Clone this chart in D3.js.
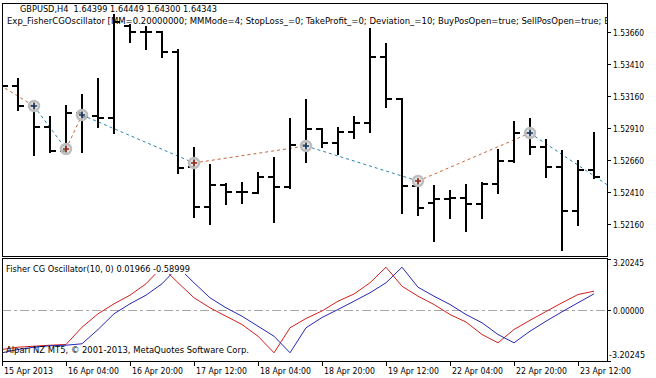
<!DOCTYPE html>
<html>
<head>
<meta charset="utf-8">
<script src="https://cdn.jsdelivr.net/npm/d3@7"></script>
<style>
  body { margin: 0; background: #fff; }
  svg { display: block; }
  text { font-family: "DejaVu Sans", Verdana, sans-serif; font-size: 9px; fill: #000; white-space: pre; }
</style>
</head>
<body>
<svg id="chart"></svg>
<script>
// GBPUSD H4 bars, 15 Apr 12:00 .. 23 Apr 16:00
var opens  = [1.53248, 1.53240, 1.53084, 1.52920, 1.52733, 1.53030, 1.53006, 1.52991, 1.53709, 1.53662,
              1.53662, 1.53506, 1.52608, 1.52295, 1.52467, 1.52412, 1.52408, 1.52530, 1.52454, 1.52780,
              1.52902, 1.52798, 1.52879, 1.52951, 1.53465, 1.53137, 1.52463, 1.52326, 1.52358, 1.52369,
              1.52319, 1.52473, 1.52652, 1.52873, 1.52762, 1.52610, 1.52262, 1.52587];
var highs  = [1.53287, 1.53295, 1.53108, 1.52998, 1.53084, 1.53170, 1.53295, 1.53795, 1.53717, 1.53701,
              1.53662, 1.53522, 1.52756, 1.52623, 1.52475, 1.52483, 1.52561, 1.52678, 1.52983, 1.53131,
              1.52905, 1.52912, 1.52998, 1.53686, 1.53569, 1.53139, 1.52506, 1.52459, 1.52420, 1.52467,
              1.52480, 1.52740, 1.52959, 1.52983, 1.52819, 1.52733, 1.52658, 1.52877];
var lows   = [1.53209, 1.53053, 1.52701, 1.52725, 1.52725, 1.52725, 1.52920, 1.52873, 1.53584, 1.53530,
              1.53467, 1.52561, 1.52217, 1.52162, 1.52319, 1.52326, 1.52405, 1.52178, 1.52444, 1.52647,
              1.52764, 1.52709, 1.52834, 1.52881, 1.53076, 1.52248, 1.52233, 1.52030, 1.52213, 1.52108,
              1.52207, 1.52405, 1.52649, 1.52709, 1.52533, 1.51959, 1.52155, 1.52522];
var closes = [1.53240, 1.53084, 1.52920, 1.52733, 1.53030, 1.52998, 1.52991, 1.53740, 1.53662, 1.53662,
              1.53506, 1.52600, 1.52295, 1.52467, 1.52412, 1.52412, 1.52530, 1.52454, 1.52780, 1.52902,
              1.52798, 1.52879, 1.52954, 1.53465, 1.53137, 1.52463, 1.52287, 1.52355, 1.52369, 1.52321,
              1.52473, 1.52652, 1.52873, 1.52762, 1.52610, 1.52262, 1.52587, 1.52532];

// Fisher CG Oscillator (red) and its trigger (blue)
var fisherMain    = [-2.512, -2.367, -2.305, -2.242, -2.198, -1.111, -0.270, 0.358, 0.898, 1.614,
                     2.669, 1.683, 0.735, 0.107, -0.421, -0.942, -1.677, -2.719, -1.149, -0.565,
                     -0.094, 0.521, 0.973, 1.677, 2.656, 1.463, 0.835, 0.314, -0.314, -0.785,
                     -1.570, -2.091, -1.256, -0.678, -0.126, 0.421, 0.942, 1.149];
var fisherTrigger = [-2.719, -2.512, -2.367, -2.279, -2.242, -2.154, -1.256, -0.270, 0.358, 0.898,
                     1.614, 2.669, 1.677, 0.735, 0.107, -0.421, -1.049, -1.677, -2.719, -1.149,
                     -0.502, 0.000, 0.521, 1.049, 1.677, 2.656, 1.400, 0.835, 0.314, -0.314,
                     -0.835, -1.570, -2.091, -1.363, -0.735, -0.144, 0.421, 0.986];

// deals from the tester (bar index, price, side)
var dealBars   = [-3, 2, 4, 5, 12, 19, 26, 33, 40];
var dealPrices = [1.53469, 1.53084, 1.52748, 1.53014, 1.52639, 1.52772, 1.52498, 1.52873, 1.52287];
var dealSides  = ["buy", "sell", "buy", "sell", "buy", "sell", "buy", "sell", "buy"];

var priceTicks = [1.52160, 1.52410, 1.52660, 1.52910, 1.53160, 1.53410, 1.53660];
var oscTicks = [3.20245, 0, -3.20245];
var oscTickLabels = ["3.20245", "0.00000", "-3.20245"];
var timeTickBars = [0, 4, 8, 12, 16, 20, 24, 28, 32, 36];
var timeTickLabels = ["15 Apr 2013", "16 Apr 04:00", "16 Apr 20:00", "17 Apr 12:00", "18 Apr 04:00",
                      "18 Apr 20:00", "19 Apr 12:00", "22 Apr 04:00", "22 Apr 20:00", "23 Apr 12:00"];

var width = 656, height = 378;
var left = 2, right = 607;
var mainTop = 3, mainBottom = 256;
var oscTop = 258, oscBottom = 361;

var svg = d3.select("#chart").attr("width", width).attr("height", height);

var x = d3.scaleLinear().domain([0, 37]).range([2, 594]);
var y = d3.scaleLinear().domain([1.52160, 1.53660]).range([224.3, 32.3]);
var yo = d3.scaleLinear().domain([-3.20245, 3.20245]).range([360.5, 258.5]);

function px(v) { return Math.round(v); }

// terminal font is narrower than anything installed, so squeeze to the measured widths
function fit(sel, w) {
    return sel.attr("textLength", w).attr("lengthAdjust", "spacingAndGlyphs");
}

var defs = svg.append("defs");
defs.append("clipPath").attr("id", "clipMain").append("rect")
    .attr("x", left).attr("y", mainTop).attr("width", right - left).attr("height", mainBottom - mainTop);
defs.append("clipPath").attr("id", "clipOsc").append("rect")
    .attr("x", left).attr("y", oscTop).attr("width", right - left).attr("height", oscBottom - oscTop);

// ---- main pane ----
var gMain = svg.append("g").attr("clip-path", "url(#clipMain)");

fit(gMain.append("text").attr("x", 20).attr("y", 12)
    .text("GBPUSD,H4  1.64399 1.64449 1.64300 1.64343"), 197);
// the expert line is cut by the chart frame, as in the terminal
fit(gMain.append("text").attr("x", 7).attr("y", 24)
    .text("Exp_FisherCGOscillator [MM=0.20000000; MMMode=4; StopLoss_=0; TakeProfit_=0; Deviation_=10; BuyPosOpen=true; SellPosOpen=true; B"), 603);

// deal connection lines
var dealColor = { buy: "#c8643a", sell: "#2a84b0" };
for (var k = 0; k < dealBars.length - 1; k++) {
    gMain.append("line")
        .attr("x1", x(dealBars[k])).attr("y1", y(dealPrices[k]))
        .attr("x2", x(dealBars[k + 1])).attr("y2", y(dealPrices[k + 1]))
        .attr("stroke", dealColor[dealSides[k]])
        .attr("stroke-width", 1)
        .attr("stroke-dasharray", "3,3");
}

// OHLC bars
var bars = gMain.append("g").attr("class", "bars")
    .attr("stroke", "#000").attr("stroke-width", 2).attr("shape-rendering", "crispEdges")
    .selectAll("g").data(opens).enter().append("g");

bars.append("line")
    .attr("x1", function(d, i) { return x(i); })
    .attr("x2", function(d, i) { return x(i); })
    .attr("y1", function(d, i) { return px(y(highs[i])) - 1; })
    .attr("y2", function(d, i) { return px(y(lows[i])) + 1; });
bars.append("line")
    .attr("x1", function(d, i) { return x(i) - 6; })
    .attr("x2", function(d, i) { return x(i); })
    .attr("y1", function(d) { return px(y(d)); })
    .attr("y2", function(d) { return px(y(d)); });
bars.append("line")
    .attr("x1", function(d, i) { return x(i); })
    .attr("x2", function(d, i) { return x(i) + 6; })
    .attr("y1", function(d, i) { return px(y(closes[i])); })
    .attr("y2", function(d, i) { return px(y(closes[i])); });

// deal markers
var markers = gMain.append("g").selectAll("g")
    .data(dealBars.map(function(b, i) { return { bar: b, price: dealPrices[i], side: dealSides[i] }; })
        .filter(function(d) { return d.bar >= 0 && d.bar <= 37; }))
    .enter().append("g")
    .attr("transform", function(d) { return "translate(" + x(d.bar) + "," + px(y(d.price)) + ")"; });

markers.append("circle")
    .attr("r", 5)
    .attr("fill", "#dcdcdc")
    .attr("fill-opacity", 0.7)
    .attr("stroke", "#bdbdbd")
    .attr("stroke-width", 2.5);
markers.append("path")
    .attr("d", "M-3,0H3M0,-3V3")
    .attr("stroke", function(d) { return d.side === "sell" ? "#17365e" : "#8e2a18"; })
    .attr("stroke-width", 1.6);

// ---- oscillator pane ----
var gOsc = svg.append("g").attr("clip-path", "url(#clipOsc)");

gOsc.append("line")
    .attr("x1", left).attr("x2", right)
    .attr("y1", px(yo(0)) + 0.5).attr("y2", px(yo(0)) + 0.5)
    .attr("stroke", "#a8a8a8")
    .attr("stroke-dasharray", "9,3,3,3");

var oscLine = d3.line()
    .x(function(d, i) { return x(i); })
    .y(function(d) { return yo(d); });

gOsc.append("path").datum(fisherMain)
    .attr("d", oscLine).attr("fill", "none")
    .attr("stroke", "#d41e1e").attr("stroke-width", 1);
gOsc.append("path").datum(fisherTrigger)
    .attr("d", oscLine).attr("fill", "none")
    .attr("stroke", "#2626b4").attr("stroke-width", 1);

var oscLabel = fit(gOsc.append("text").attr("x", 6).attr("y", 272)
    .text("Fisher CG Oscillator(10, 0) 0.01966 -0.58999"), 184);
var bb = oscLabel.node().getBBox();
gOsc.insert("rect", function() { return oscLabel.node(); })
    .attr("x", bb.x - 1).attr("y", bb.y).attr("width", bb.width + 2).attr("height", bb.height)
    .attr("fill", "#fff");

fit(gOsc.append("text").attr("x", 6).attr("y", 353)
    .text("Alpari NZ MT5, \u00a9 2001-2013, MetaQuotes Software Corp."), 243);

// ---- frames ----
svg.append("rect")
    .attr("x", left + 0.5).attr("y", mainTop + 0.5)
    .attr("width", right - left).attr("height", mainBottom - mainTop)
    .attr("fill", "none").attr("stroke", "#000");
svg.append("rect")
    .attr("x", left + 0.5).attr("y", oscTop + 0.5)
    .attr("width", right - left).attr("height", oscBottom - oscTop)
    .attr("fill", "none").attr("stroke", "#000");

// ---- price axis ----
var pAxis = svg.append("g");
pAxis.selectAll("line").data(priceTicks).enter().append("line")
    .attr("x1", right).attr("x2", right + 4)
    .attr("y1", function(d) { return px(y(d)) + 0.5; })
    .attr("y2", function(d) { return px(y(d)) + 0.5; })
    .attr("stroke", "#000");
fit(pAxis.selectAll("text").data(priceTicks).enter().append("text")
    .attr("x", right + 6)
    .attr("y", function(d) { return px(y(d)) + 3.5; })
    .text(function(d) { return d.toFixed(5); }), 31);

// ---- oscillator axis ----
var oAxis = svg.append("g");
oAxis.selectAll("line").data(oscTicks).enter().append("line")
    .attr("x1", right).attr("x2", right + 4)
    .attr("y1", function(d) { return px(yo(d)) + 0.5; })
    .attr("y2", function(d) { return px(yo(d)) + 0.5; })
    .attr("stroke", "#000");
oAxis.selectAll("text").data(oscTicks).enter().append("text")
    .attr("x", function(d) { return d < 0 ? right + 2 : right + 6; })
    .attr("y", function(d) { return Math.max(265.5, Math.min(358, px(yo(d)) + 3.5)); })
    .attr("textLength", function(d) { return d < 0 ? 36 : 31; })
    .attr("lengthAdjust", "spacingAndGlyphs")
    .text(function(d, i) { return oscTickLabels[i]; });

// ---- time axis ----
var tAxis = svg.append("g");
tAxis.selectAll("line").data(timeTickBars).enter().append("line")
    .attr("x1", function(d) { return x(d) + 0.5; })
    .attr("x2", function(d) { return x(d) + 0.5; })
    .attr("y1", oscBottom).attr("y2", oscBottom + 5)
    .attr("stroke", "#000");
tAxis.selectAll("text").data(timeTickBars).enter().append("text")
    .attr("x", function(d) { return x(d) + 2; })
    .attr("y", 374)
    .attr("textLength", function(d, i) { return i === 0 ? 49 : 51; })
    .attr("lengthAdjust", "spacingAndGlyphs")
    .text(function(d, i) { return timeTickLabels[i]; });
</script>
</body>
</html>
